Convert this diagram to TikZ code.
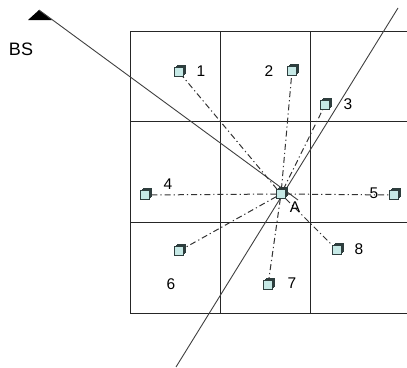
\documentclass[tikz,border=0pt]{standalone}
\usepackage{fontspec}
\setmainfont{Liberation Sans}
\usetikzlibrary{shadows}
\definecolor{devfill}{HTML}{C6E9E6}
\definecolor{devedge}{HTML}{2E3E3E}
\begin{document}
\begin{tikzpicture}[x=1pt,y=-1pt,
  grid/.style={line width=1pt, draw=black!85},
  ray/.style={line width=0.9pt, draw=black!75},
  link/.style={line width=1pt, draw=black!80, dash pattern=on 6pt off 3pt on 1.2pt off 3pt},
  dev/.style={draw=devedge, fill=devfill, minimum size=8.5pt, inner sep=0pt, line width=1pt,
    double copy shadow={shadow xshift=1.3pt, shadow yshift=1.3pt, fill=devfill!70!teal, draw=devedge}},
  lab/.style={font=\fontsize{15.5}{15.5}\selectfont, inner sep=0pt}]
\useasboundingbox (0,0) rectangle (407,367);
% grid
\draw[grid] (130,31) -- (407,31);
\draw[grid] (130,121) -- (407,121);
\draw[grid] (130,222) -- (407,222);
\draw[grid] (130,313) -- (407,313);
\draw[grid] (130,31) -- (130,313);
\draw[grid] (220,31) -- (220,313);
\draw[grid] (310,31) -- (310,313);
% BS
\coordinate (bs) at (39,10);
\fill[black] (28,20) -- (bs) -- (52,20) -- cycle;
\node[lab, font=\fontsize{18}{18}\selectfont] (bslab) at (21,49) {BS};
\coordinate (bsend) at (298,200);
\draw[ray] (bs) -- (bsend);
% second line
\coordinate (l1) at (398,8);
\coordinate (l2) at (176,367);
\draw[ray] (l1) -- (l2);
% devices
\node[dev] (A) at (281,194) {};
\node[dev] (d1) at (179,72) {};
\node[dev] (d2) at (292,71) {};
\node[dev] (d3) at (325,105) {};
\node[dev] (d4) at (145,195) {};
\node[dev] (d5) at (394,195) {};
\node[dev] (d6) at (179,251) {};
\node[dev] (d7) at (268,285) {};
\node[dev] (d8) at (337,250) {};
% links
\foreach \d in {d1,d2,d3,d4,d5,d6,d7,d8} \draw[link] (A) -- (\d);
% labels
\node[lab] (t1) at (201,71) {1};
\node[lab] (t2) at (269,71) {2};
\node[lab] (t3) at (348,104) {3};
\node[lab] (t4) at (168,184) {4};
\node[lab] (t5) at (374,193) {5};
\node[lab] (t6) at (171,284) {6};
\node[lab] (t7) at (292,283) {7};
\node[lab] (t8) at (359,249) {8};
\node[lab] (tA) at (295,207) {A};
\end{tikzpicture}
\end{document}
